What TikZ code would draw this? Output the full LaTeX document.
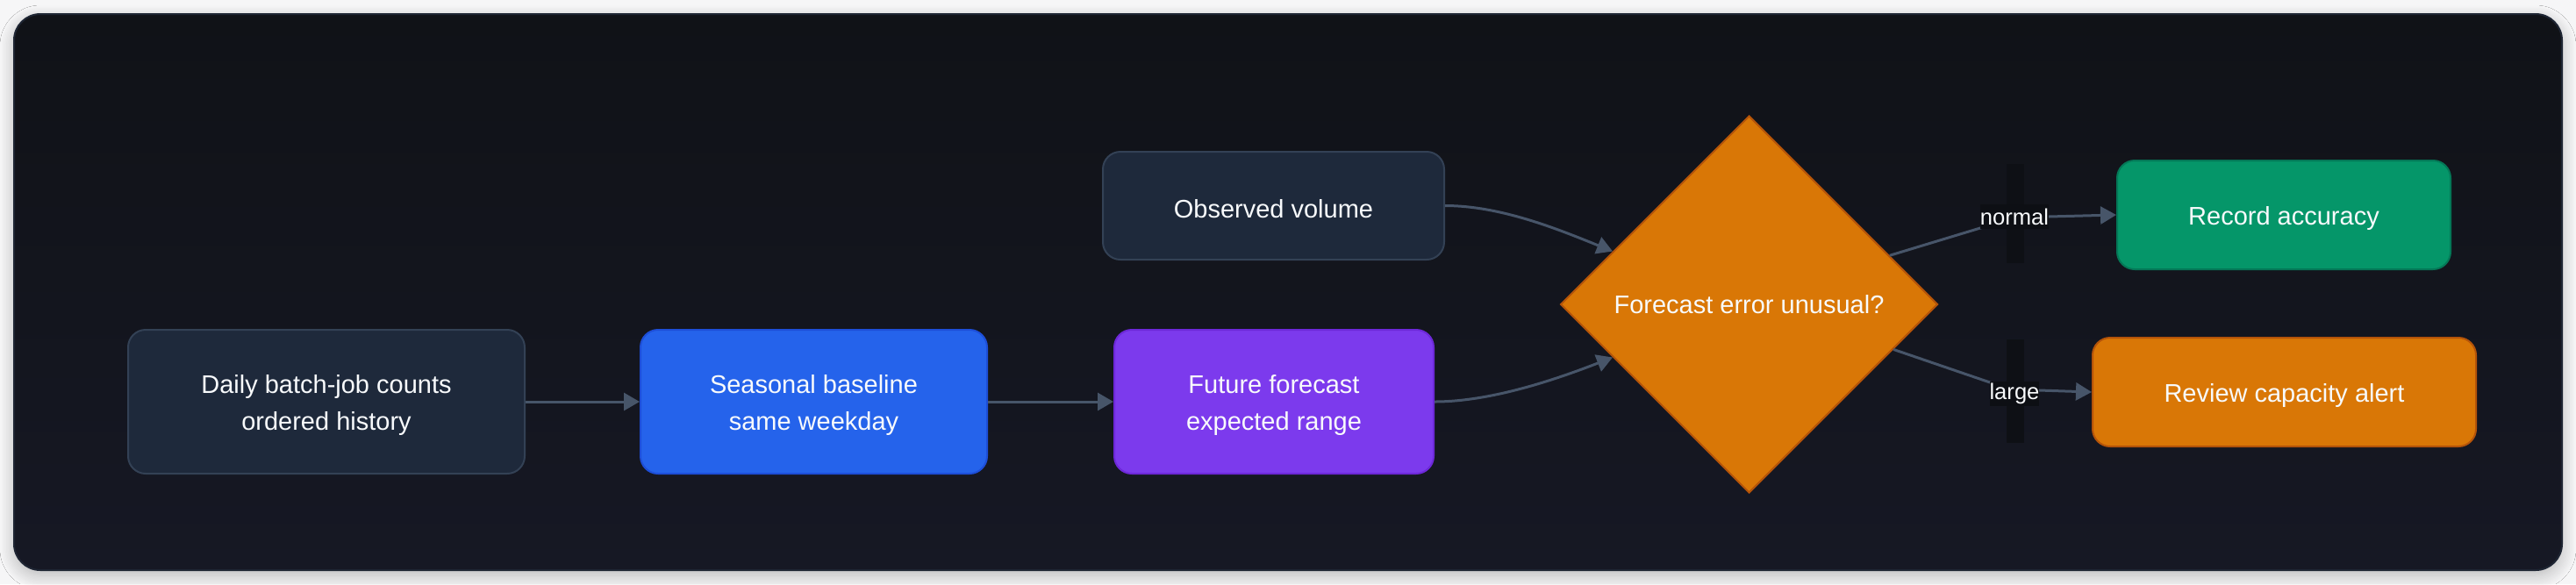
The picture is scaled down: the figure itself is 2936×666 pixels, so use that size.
\documentclass[tikz,border=0pt]{standalone}
\usepackage{fontspec}
\setmainfont{Liberation Sans}
\usetikzlibrary{arrows.meta,shapes.geometric,shadows.blur,calc}
\definecolor{outerbg}{HTML}{F6F6F7}
\definecolor{paneltop}{HTML}{101217}
\definecolor{panelbot}{HTML}{161824}
\definecolor{panelline}{HTML}{1E2533}
\definecolor{slatefill}{HTML}{1E293B}
\definecolor{slateline}{HTML}{334155}
\definecolor{bluefill}{HTML}{2563EB}
\definecolor{blueline}{HTML}{1D4ED8}
\definecolor{violetfill}{HTML}{7C3AED}
\definecolor{violetline}{HTML}{6D28D9}
\definecolor{amberfill}{HTML}{D97706}
\definecolor{amberline}{HTML}{B45309}
\definecolor{greenfill}{HTML}{059669}
\definecolor{greenline}{HTML}{047857}
\definecolor{edgecol}{HTML}{475569}
\definecolor{textcol}{HTML}{F8FAFC}
\definecolor{labelbg}{HTML}{0D0F14}
\definecolor{barcol}{HTML}{0E1015}
\tikzset{
  box/.style={rectangle, rounded corners=10pt, line width=1pt, inner sep=0pt,
    align=center, text=textcol, font=\fontsize{14.5pt}{21pt}\selectfont},
  oneline/.style={execute at begin node={\rule{0pt}{14.5pt}}},
  twoline/.style={execute at begin node={\rule{0pt}{35.5pt}}},
  slatebox/.style={box, fill=slatefill, draw=slateline},
  bluebox/.style={box, fill=bluefill, draw=blueline},
  violetbox/.style={box, fill=violetfill, draw=violetline},
  amberbox/.style={box, fill=amberfill, draw=amberline},
  greenbox/.style={box, fill=greenfill, draw=greenline},
  decision/.style={diamond, aspect=1, inner sep=0pt, minimum width=215pt, minimum height=215pt,
    fill=amberfill, draw=amberline, line width=1pt, text=textcol, font=\fontsize{14.5pt}{21pt}\selectfont},
  edge/.style={draw=edgecol, line width=1.5pt, -{Triangle[length=9pt,width=10pt]}},
  elabel/.style={fill=labelbg, inner sep=0pt, minimum height=14pt, text=textcol,
    font=\fontsize{12.8pt}{14pt}\selectfont}
}
\begin{document}
\begin{tikzpicture}[x=0.5pt,y=-0.5pt]
\useasboundingbox (0,0) rectangle (2936,666);
\fill[outerbg] (0,0) rectangle (2936,666);
\path[blur shadow={shadow xshift=0pt, shadow yshift=-3pt, shadow blur radius=8pt, shadow blur steps=12, shadow opacity=25}]
  [rounded corners=15pt] (16,16) rectangle (2920,650);
\shade[top color=paneltop, bottom color=panelbot, rounded corners=15pt] (16,16) rectangle (2920,650);
\draw[panelline, line width=1pt, rounded corners=15pt] (16,16) rectangle (2920,650);

% label background bars
\fill[barcol] (2287,187) rectangle (2307,300);
\fill[barcol] (2287,387) rectangle (2307,505);

% nodes
\node[slatebox, twoline, minimum width=226pt, minimum height=82pt] (daily) at (372,458) {Daily batch-job counts\\ordered history};
\node[bluebox, twoline, minimum width=197.5pt, minimum height=82pt] (seasonal) at (927.5,458) {Seasonal baseline\\same weekday};
\node[violetbox, twoline, minimum width=182pt, minimum height=82pt] (future) at (1452,458) {Future forecast\\expected range};
\node[slatebox, oneline, minimum width=194.5pt, minimum height=61.5pt] (observed) at (1451.5,234.5) {Observed volume};
\node[decision] (dia) at (1993.5,347) {Forecast error unusual?};
\node[greenbox, oneline, minimum width=190pt, minimum height=62pt] (record) at (2603,245) {Record accuracy};
\node[amberbox, oneline, minimum width=218.5pt, minimum height=62pt] (review) at (2603.5,447) {Review capacity alert};

% connectors
\draw[edge] (daily.east) -- (seasonal.west);
\draw[edge] (seasonal.east) -- (future.west);
\coordinate (dinlow) at ($(dia.west)!0.28!(dia.south)$);
\coordinate (dinup) at ($(dia.west)!0.28!(dia.north)$);
\coordinate (doutup) at ($(dia.north)!0.742!(dia.east)$);
\coordinate (doutlow) at ($(dia.south)!0.762!(dia.east)$);
\draw[edge] (future.east) .. controls (1700,458) and (1775,432) .. (dinlow);
\draw[edge] (observed.east) .. controls (1710,234.5) and (1775,261) .. (dinup);
\draw[edge] (doutup) -- (2257,260) .. controls (2285,251) and (2305,247) .. (2335,247) -- (record.west);
\draw[edge] (doutlow) -- (2268,436) .. controls (2290,443) and (2305,445) .. (2324,445) -- (review.west);

% edge labels
\node[elabel] (lnormal) at (2296,247) {normal};
\node[elabel] (llarge) at (2296,449) {large};
\end{tikzpicture}
\end{document}
